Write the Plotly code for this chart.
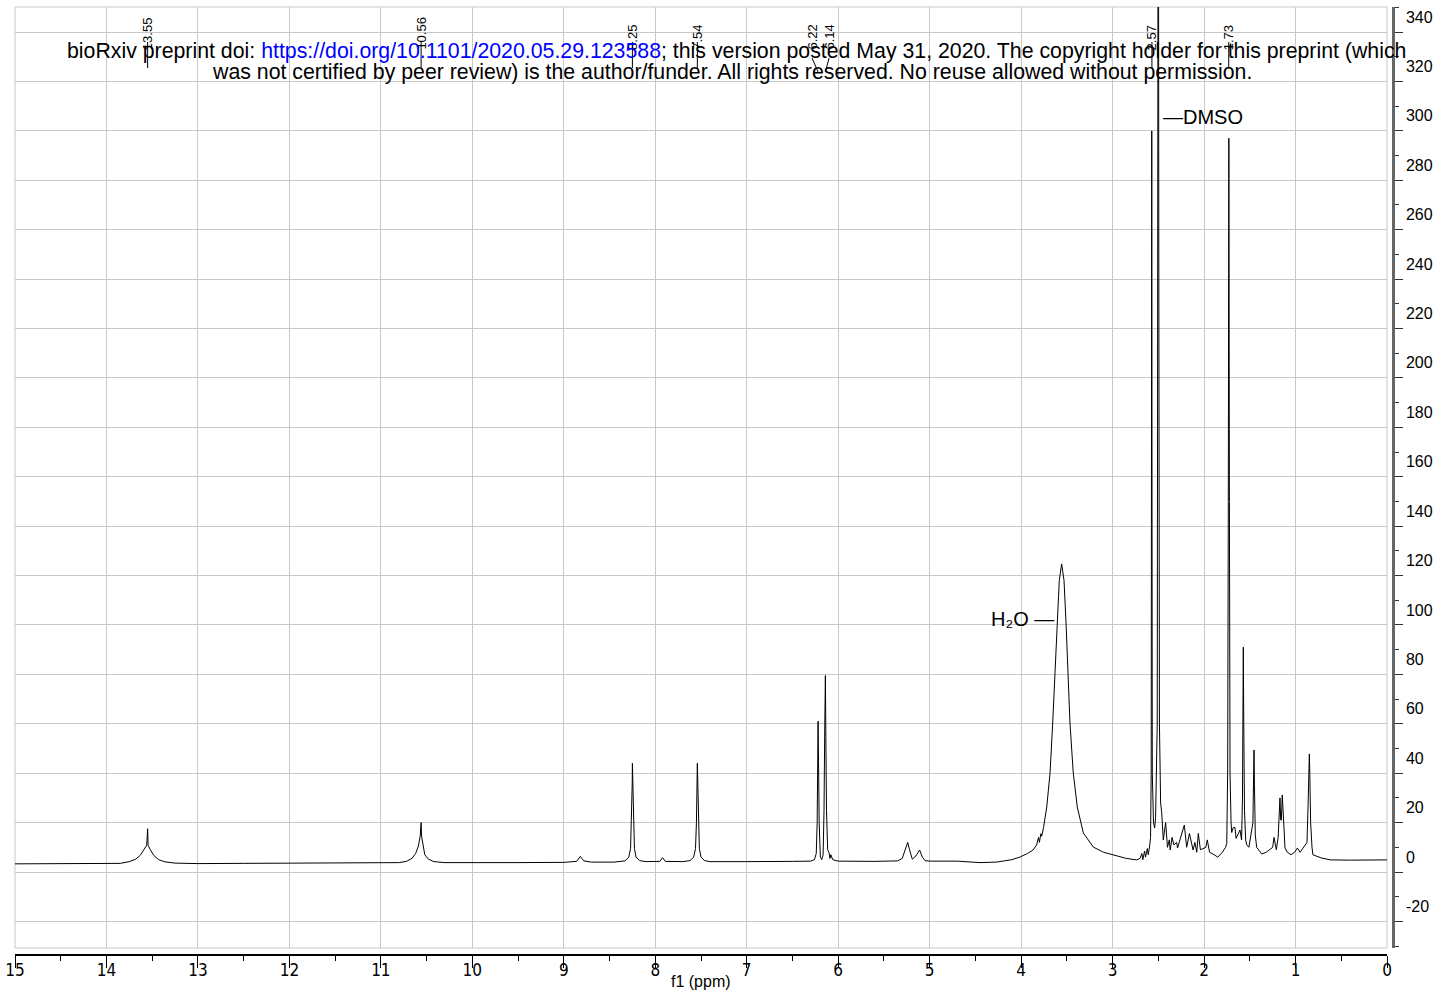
import plotly.graph_objects as go

# ---------------- data ----------------
ppm = [15.0, 14.5, 14.0, 13.85,
       13.75, 13.68, 13.63, 13.59, 13.56, 13.55, 13.545, 13.52, 13.48, 13.43, 13.36, 13.25,
       13.0, 12.5, 12.0, 11.5, 11.0, 10.8,
       10.72, 10.66, 10.62, 10.59, 10.57, 10.56, 10.555, 10.54, 10.52, 10.48, 10.42, 10.3,
       10.0, 9.5, 9.0, 8.9,
       8.86, 8.82, 8.78, 8.7,
       8.45, 8.33, 8.29, 8.27, 8.26, 8.252, 8.25, 8.245, 8.238, 8.228, 8.21, 8.17, 8.1,
       7.95, 7.92, 7.89, 7.7,
       7.62, 7.58, 7.56, 7.55, 7.543, 7.54, 7.535, 7.528, 7.518, 7.50, 7.46, 7.4,
       7.2, 7.0, 6.5, 6.3,
       6.26, 6.24, 6.23, 6.225, 6.22, 6.215, 6.208, 6.195, 6.18,
       6.165, 6.155, 6.148, 6.14, 6.135, 6.128, 6.115, 6.10, 6.09, 6.08, 6.06, 6.0,
       5.6, 5.35,
       5.30, 5.27, 5.24, 5.22, 5.19, 5.15, 5.11, 5.08, 5.05, 5.0,
       4.7, 4.45, 4.27, 4.10, 4.01, 3.93, 3.87, 3.83, 3.81, 3.80, 3.785, 3.775, 3.755,
       3.72, 3.684, 3.655, 3.63, 3.604, 3.583, 3.557, 3.531, 3.509, 3.491, 3.466, 3.430,
       3.386, 3.32, 3.211, 3.10, 2.992, 2.85, 2.736,
       2.70, 2.68, 2.67, 2.65, 2.64, 2.62, 2.61, 2.595, 2.585,
       2.578, 2.575, 2.572, 2.569, 2.566, 2.553, 2.540, 2.53,
       2.512, 2.505, 2.50, 2.495, 2.488,
       2.475, 2.463, 2.446, 2.42, 2.40, 2.38, 2.37, 2.35, 2.33, 2.30, 2.29, 2.238, 2.216,
       2.19, 2.16, 2.12, 2.10, 2.08, 2.063, 2.04, 1.98, 1.965, 1.94, 1.89, 1.85, 1.80,
       1.765, 1.752,
       1.742, 1.735, 1.729, 1.723, 1.716, 1.705, 1.698, 1.68, 1.662, 1.65, 1.607, 1.59,
       1.580, 1.574, 1.571, 1.566, 1.558, 1.545, 1.534, 1.51,
       1.466, 1.458, 1.454, 1.449, 1.44, 1.425, 1.39, 1.37, 1.32,
       1.25, 1.235, 1.22, 1.21,
       1.19, 1.175, 1.170, 1.162, 1.155, 1.145, 1.138, 1.125, 1.115, 1.09, 1.05, 1.01,
       0.98, 0.95,
       0.875, 0.862, 0.853, 0.849, 0.844, 0.835, 0.82, 0.81, 0.72, 0.62, 0.4, 0.2, 0.0]

intensity = [3.3, 3.4, 3.3, 3.5,
             4.2, 5.2, 6.8, 9.0, 10.8, 17.5, 10.8, 9.0, 6.6, 5.0, 4.1, 3.6,
             3.4, 3.5, 3.5, 3.6, 3.7, 3.8,
             4.3, 5.5, 7.5, 10.5, 14.5, 20.0, 14.5, 10.5, 7.0, 5.2, 4.2, 3.8,
             3.7, 3.8, 3.9, 4.0,
             4.3, 6.3, 4.5, 4.0,
             4.0, 4.5, 6.0, 9.5, 20.0, 36.0, 44.0, 36.0, 20.0, 9.5, 6.0, 4.6, 4.2,
             4.3, 5.8, 4.3, 4.2,
             4.6, 6.0, 9.5, 20.0, 36.0, 44.0, 36.0, 20.0, 9.5, 6.0, 4.6, 4.2,
             4.3, 4.2, 4.3, 4.4,
             5.0, 7.5, 20.0, 45.0, 61.0, 45.0, 20.0, 6.0, 5.0,
             7.0, 25.0, 55.0, 79.5, 55.0, 25.0, 9.0, 7.8, 5.5, 7.0, 5.0, 4.4,
             4.3, 4.5,
             5.5, 8.5, 12.0, 9.0, 5.2, 6.5, 8.9, 6.0, 4.6, 4.4,
             4.4, 3.8, 4.0, 5.0, 6.1, 7.5, 8.9, 11.0, 14.0, 12.0, 15.5, 14.5, 18.0,
             26.3, 40.0, 60.3, 80.5, 100.8, 118.0, 124.7, 118.0, 100.8, 80.5, 60.3, 40.0,
             26.3, 15.8, 10.1, 8.0, 6.9, 5.5, 4.9,
             5.5, 7.5, 5.0, 8.5, 6.0, 9.5, 7.0, 10.5, 14.0,
             40.0, 150.0, 300.0, 150.0, 40.0, 20.0, 17.8, 22.0,
             60.0, 250.0, 500.0, 250.0, 60.0,
             28.0, 24.0, 13.0, 20.0, 10.0, 13.0, 8.9, 14.0, 11.0, 12.0, 9.7, 16.0, 19.0,
             10.0, 15.6, 8.9, 12.0, 8.0, 15.6, 9.0, 10.0, 13.0, 8.0, 7.0, 6.0, 8.0,
             10.0, 11.6,
             40.0, 150.0, 297.0, 150.0, 40.0, 20.0, 16.0, 18.0, 18.0, 13.6, 17.0, 13.0,
             30.0, 70.0, 91.0, 60.0, 25.0, 13.0, 11.0, 10.0,
             20.0, 40.0, 49.4, 35.0, 15.0, 10.0, 8.0, 7.3, 8.0,
             10.0, 14.0, 10.0, 9.0,
             14.0, 27.0, 30.0, 21.0, 21.0, 31.2, 25.0, 12.0, 9.7, 8.0, 7.0, 8.0,
             9.7, 8.0,
             12.0, 28.0, 45.0, 47.8, 40.0, 20.0, 10.0, 7.0, 5.7, 4.9, 4.8, 4.9, 4.9]

peak_label_text = ["13.55", "10.56", "8.25", "7.54", "6.22", "6.14", "2.57", "1.73"]
peak_actual = [13.55, 10.56, 8.25, 7.54, 6.22, 6.14, 2.57, 1.73]
peak_label_x = [13.55, 10.56, 8.25, 7.54, 6.286, 6.100, 2.57, 1.73]

x_tick_vals = list(range(0, 16))
x_minor_vals = [i + 0.5 for i in range(15)]
y_tick_vals = list(range(-20, 341, 20))
y_minor_vals = list(range(-30, 351, 20))

solvent_labels = ["—DMSO", "H₂O —"]

watermark_1 = ("bioRxiv preprint doi: <span style='color:#0000ff'>https://doi.org/10.1101/2020.05.29.123588</span>; "
               "this version posted May 31, 2020. The copyright holder for this preprint (which")
watermark_2 = ("was not certified by peer review) is the author/funder. All rights reserved. "
               "No reuse allowed without permission.")

# ---------------- layout geometry ----------------
W, H = 1453, 998
ML, MR, MT, MB = 15, 60, 0, 43
PLOT_W = W - ML - MR          # 1378
PLOT_H = H - MT - MB          # 955
Y_RANGE = [-30.76, 350.12]

def paper_x(px):
    return (px - ML) / PLOT_W

def paper_y(py):
    return (PLOT_H - (py - MT)) / PLOT_H

def val_y(py):
    return (872 - py) / 2.4706

FONT = "Liberation Sans, Arial, sans-serif"

fig = go.Figure()

fig.add_trace(go.Scatter(x=ppm, y=intensity, mode="lines",
                         line=dict(color="black", width=1),
                         hoverinfo="skip", showlegend=False))

# peak-pick connector lines
cx, cy = [], []
for lx, ax in zip(peak_label_x, peak_actual):
    if lx == ax:
        cx += [lx, ax, None]
        cy += [val_y(42), val_y(68), None]
    else:
        cx += [lx, ax, None]
        cy += [val_y(58), val_y(72), None]
fig.add_trace(go.Scatter(x=cx, y=cy, mode="lines", line=dict(color="black", width=1),
                         hoverinfo="skip", showlegend=False))

annotations = []
for txt, lx in zip(peak_label_text, peak_label_x):
    annotations.append(dict(text=txt, x=lx, xref="x", y=paper_y(52), yref="paper",
                            textangle=-90, xanchor="center", yanchor="bottom",
                            showarrow=False, font=dict(family=FONT, size=13, color="black")))

annotations.append(dict(text=solvent_labels[0], x=paper_x(1161), y=paper_y(117),
                        xref="paper", yref="paper", xanchor="left", yanchor="middle",
                        showarrow=False, font=dict(family=FONT, size=20, color="black")))
annotations.append(dict(text=solvent_labels[1], x=paper_x(1056), y=paper_y(619),
                        xref="paper", yref="paper", xanchor="right", yanchor="middle",
                        showarrow=False, font=dict(family=FONT, size=20, color="black")))

annotations.append(dict(text=watermark_1, x=paper_x(736), y=paper_y(51),
                        xref="paper", yref="paper", xanchor="center", yanchor="middle",
                        showarrow=False, font=dict(family=FONT, size=21.3, color="black")))
annotations.append(dict(text=watermark_2, x=paper_x(732), y=paper_y(72),
                        xref="paper", yref="paper", xanchor="center", yanchor="middle",
                        showarrow=False, font=dict(family=FONT, size=21.3, color="black")))

annotations.append(dict(text="f1 (ppm)", x=paper_x(701), y=paper_y(982),
                        xref="paper", yref="paper", xanchor="center", yanchor="middle",
                        showarrow=False, font=dict(family=FONT, size=16, color="black")))

x_dom_end = (1387 - ML) / PLOT_W
y_dom_lo = (PLOT_H - (948 - MT)) / PLOT_H
y_dom_hi = (PLOT_H - (7 - MT)) / PLOT_H

fig.update_layout(
    width=W, height=H,
    margin=dict(l=ML, r=MR, t=MT, b=MB, pad=0),
    paper_bgcolor="white", plot_bgcolor="white",
    showlegend=False,
    font=dict(family=FONT, color="black"),
    annotations=annotations,
    xaxis=dict(
        domain=[0, x_dom_end], range=[15, 0], anchor="free", position=0,
        tickmode="array", tickvals=x_tick_vals, ticktext=[str(v) for v in x_tick_vals],
        ticks="outside", ticklen=12, tickwidth=1, tickcolor="black",
        ticklabelstandoff=-12,
        tickfont=dict(family="Liberation Sans Narrow, Arial Narrow, DejaVu Sans Condensed, Liberation Sans",
                      size=17, color="black"),
        minor=dict(tickvals=x_minor_vals, ticks="outside", ticklen=5, tickcolor="black", showgrid=False),
        showgrid=True, gridcolor="#c8c8c8", gridwidth=1,
        showline=True, linecolor="black", linewidth=1.5,
        zeroline=False,
    ),
    yaxis=dict(
        domain=[y_dom_lo, y_dom_hi], range=Y_RANGE, side="right", anchor="free", position=1,
        tickmode="array", tickvals=y_tick_vals, ticktext=[str(v) for v in y_tick_vals],
        ticks="outside", ticklen=8, tickwidth=1, tickcolor="#333333",
        ticklabelshift=-15,
        tickfont=dict(family=FONT, size=16, color="black"),
        minor=dict(tickvals=y_minor_vals, ticks="outside", ticklen=4, tickcolor="#333333", showgrid=False),
        showgrid=True, gridcolor="#c8c8c8", gridwidth=1,
        showline=True, linecolor="#666666", linewidth=2.5,
        zeroline=False,
    ),
    shapes=[dict(type="rect", xref="x domain", yref="y domain", x0=0, x1=1, y0=0, y1=1,
                 line=dict(color="#c8c8c8", width=1), layer="below")],
)

fig.write_html("out.html", config={"displayModeBar": False},
               post_script="document.body.style.margin='0';document.body.style.overflow='hidden';")
